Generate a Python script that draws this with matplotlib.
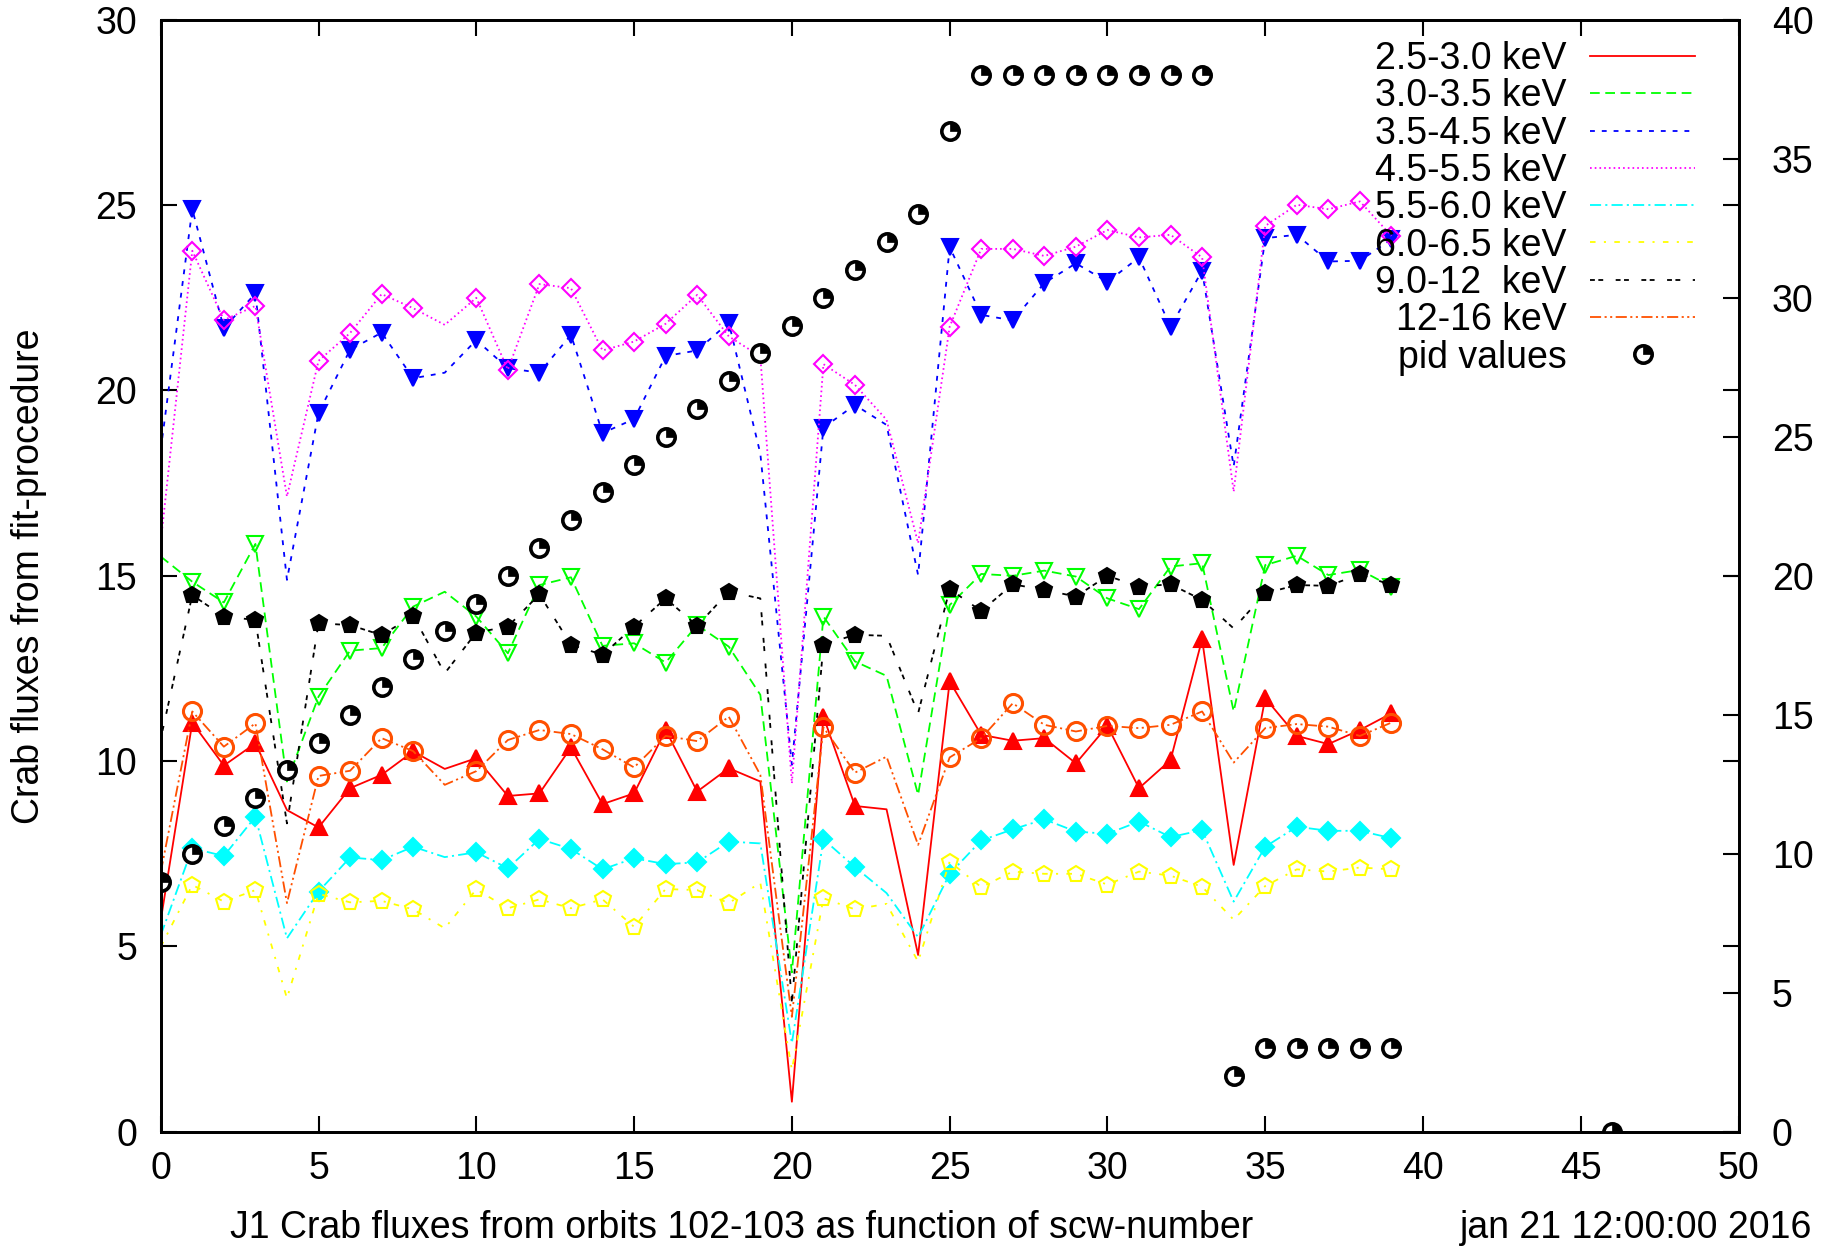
import matplotlib
matplotlib.use("Agg")
import matplotlib.pyplot as plt
from matplotlib.lines import Line2D
from matplotlib.path import Path

plt.rcParams['font.family'] = ['Liberation Sans', 'DejaVu Sans']
plt.rcParams['lines.scale_dashes'] = False

# scw number
scw = list(range(40))

flux_25_30 = [5.7, 11.04, 9.88, 10.48, 8.68, 8.21, 9.27, 9.63, 10.26, 9.79,
              10.08, 9.06, 9.13, 10.37, 8.84, 9.13, 10.84, 9.18, 9.81, 9.45,
              0.81, 11.2, 8.79, 8.7, 4.77, 12.15, 10.71, 10.55, 10.62, 9.94,
              10.95, 9.27, 10.03, 13.29, 7.2, 11.7, 10.68, 10.46, 10.84, 11.29]
flux_30_35 = [15.52, 14.84, 14.28, 15.86, 9.45, 11.74, 12.98, 13.05, 14.17, 14.57,
              13.9, 12.91, 14.75, 14.96, 13.11, 13.18, 12.66, 13.67, 13.09, 11.79,
              4.3, 13.9, 12.69, 12.3, 9.09, 14.21, 15.05, 15.0, 15.14, 14.98,
              14.39, 14.1, 15.25, 15.34, 11.34, 15.29, 15.54, 15.02, 15.16, 14.71]
flux_35_45 = [18.4, 24.89, 21.68, 22.62, 14.89, 19.39, 21.1, 21.56, 20.33, 20.48,
              21.36, 20.6, 20.48, 21.5, 18.85, 19.23, 20.93, 21.08, 21.83, 18.3,
              9.9, 19.0, 19.61, 19.07, 15.02, 23.87, 22.04, 21.89, 22.9, 23.43,
              22.93, 23.59, 21.72, 23.23, 17.95, 24.11, 24.2, 23.48, 23.5, 24.08]
flux_45_55 = [15.9, 23.77, 21.9, 22.28, 17.14, 20.8, 21.55, 22.6, 22.22, 21.77,
              22.5, 20.56, 22.87, 22.76, 21.08, 21.32, 21.8, 22.58, 21.46, 20.92,
              9.4, 20.71, 20.15, 19.21, 15.88, 21.72, 23.82, 23.82, 23.63, 23.88,
              24.33, 24.13, 24.2, 23.59, 17.27, 24.44, 25.01, 24.89, 25.1, 24.17]
flux_55_60 = [5.3, 7.65, 7.44, 8.5, 5.22, 6.48, 7.4, 7.33, 7.69, 7.41,
              7.54, 7.11, 7.9, 7.63, 7.08, 7.38, 7.22, 7.27, 7.83, 7.78,
              2.39, 7.89, 7.14, 6.44, 5.25, 6.96, 7.86, 8.16, 8.43, 8.1,
              8.04, 8.37, 7.95, 8.14, 6.21, 7.69, 8.23, 8.12, 8.12, 7.92]
flux_60_65 = [4.99, 6.66, 6.21, 6.52, 3.6, 6.42, 6.19, 6.23, 6.0, 5.49,
              6.54, 6.03, 6.27, 6.03, 6.27, 5.53, 6.55, 6.52, 6.17, 6.72,
              1.67, 6.3, 6.0, 6.15, 4.59, 7.29, 6.6, 7.02, 6.96, 6.96,
              6.67, 7.02, 6.91, 6.61, 5.72, 6.63, 7.08, 7.02, 7.13, 7.08]
flux_90_12 = [10.6, 14.48, 13.9, 13.81, 8.32, 13.72, 13.67, 13.4, 13.92, 12.37,
              13.47, 13.63, 14.5, 13.14, 12.87, 13.63, 14.39, 13.65, 14.57, 14.39,
              3.5, 13.14, 13.41, 13.38, 11.29, 14.64, 14.05, 14.77, 14.62, 14.44,
              15.0, 14.71, 14.77, 14.35, 13.58, 14.53, 14.75, 14.73, 15.04, 14.75]
flux_12_16 = [7.0, 11.34, 10.39, 11.02, 6.17, 9.6, 9.74, 10.62, 10.27, 9.36,
              9.73, 10.57, 10.84, 10.73, 10.32, 9.83, 10.68, 10.54, 11.2, 9.63,
              3.1, 10.91, 9.69, 10.12, 7.74, 10.1, 10.62, 11.56, 10.98, 10.8,
              10.95, 10.89, 10.98, 11.34, 9.96, 10.89, 11.0, 10.93, 10.68, 11.04]

# scws that have a point symbol drawn
marked = [1, 2, 3, 5, 6, 7, 8, 10, 11, 12, 13, 14, 15, 16, 17, 18, 21, 22,
          25, 26, 27, 28, 29, 30, 31, 32, 33, 35, 36, 37, 38, 39]

pid_x = list(range(40)) + [46]
pid_vals = [9, 10, 11, 12, 13, 14, 15, 16, 17, 18, 19, 20, 21, 22, 23, 24, 25,
            26, 27, 28, 29, 30, 31, 32, 33, 36, 38, 38, 38, 38, 38, 38, 38, 38,
            2, 3, 3, 3, 3, 3, 0]

labels = ['2.5-3.0 keV', '3.0-3.5 keV', '3.5-4.5 keV', '4.5-5.5 keV',
          '5.5-6.0 keV', '6.0-6.5 keV', '9.0-12  keV', '12-16 keV']

series = [flux_25_30, flux_30_35, flux_35_45, flux_45_55,
          flux_55_60, flux_60_65, flux_90_12, flux_12_16]
colors = ['#ff0000', '#00ff00', '#0000ff', '#ff00ff',
          '#00ffff', '#ffff00', '#000000', '#ff5000']
dashes = [(None, None), (7, 4), (3.5, 5), (1.2, 2.2),
          (8, 3, 1.5, 3), (4, 6, 1.5, 6), (3.5, 2.5, 3.5, 9),
          (8, 2.5, 1.5, 2.5, 1.5, 2.5)]
markers = ['^', 'v', 'v', 'D', 'D', 'p', 'p', 'o']
filled = [True, False, True, False, True, False, True, False]
msizes = [11, 11, 11, 8.7, 8.7, 12, 12, 13]
medges = [1.5, 1.5, 1.5, 1.5, 1.5, 1.5, 1.5, 2.2]

FS = 27

fig = plt.figure(figsize=(18.39, 12.47), dpi=100)
ax = fig.add_axes([0.0874, 0.0924, 0.858, 0.8917])
ax.set_xlim(0, 50)
ax.set_ylim(0, 30)

handles = []
for y, c, d, m, f, ms, mw in zip(series, colors, dashes, markers, filled, msizes, medges):
    style = dict(ls='-') if d[0] is None else dict(dashes=d)
    ax.plot(scw, y, color=c, lw=1.3, **style)
    ax.plot(scw, y, ls='none', marker=m, markevery=marked, ms=ms,
            mec=c, mfc=c if f else 'none', mew=mw)
    handles.append(Line2D([], [], color=c, lw=1.3, **style))

ax2 = ax.twinx()
ax2.set_ylim(0, 40)
quarter = Path.wedge(0, 90)
ax2.plot(pid_x, pid_vals, ls='none', marker='o', ms=12.5, mfc='white',
         mec='black', mew=2.6)
ax2.plot(pid_x, pid_vals, ls='none', marker=quarter, ms=12.5, mfc='black',
         mec='black', mew=0.5)
pid_h = (Line2D([], [], ls='none', marker='o', ms=12.5, mfc='white', mec='black', mew=2.6),
         Line2D([], [], ls='none', marker=quarter, ms=12.5, mfc='black', mec='black', mew=0.5))

ax.set_xticks(range(0, 51, 5))
ax.set_yticks(range(0, 31, 5))
ax2.set_yticks(range(0, 41, 5))
ax.tick_params(axis='x', direction='in', top=True, length=11.5, width=1.5,
               labelsize=FS, pad=14)
ax.tick_params(axis='y', direction='in', right=True, labelright=False,
               length=11.5, width=1.5, labelsize=FS, pad=17)
ax2.tick_params(axis='y', direction='in', length=11.5, width=1.5,
                labelsize=FS, pad=24)
for a in (ax, ax2):
    for s in a.spines.values():
        s.set_linewidth(2)

leg = ax2.legend(handles + [pid_h], labels + ['pid values'],
                 loc='upper right', bbox_to_anchor=(1695 / 1839, 1 - 41 / 1247),
                 bbox_transform=fig.transFigure, frameon=False, markerfirst=False,
                 borderpad=0, borderaxespad=0, handlelength=2.8,
                 handletextpad=0.63, labelspacing=0.035, fontsize=FS)

fig.text(29 / 1839, 1 - 576 / 1247, 'Crab fluxes from fit-procedure',
         rotation=90, ha='center', va='center', fontsize=FS)
fig.text(742 / 1839, 1 - 1228 / 1247,
         'J1 Crab fluxes from orbits 102-103 as function of scw-number',
         ha='center', va='center', fontsize=FS)
fig.text(1812 / 1839, 1 - 1228 / 1247, 'jan 21 12:00:00 2016',
         ha='right', va='center', fontsize=FS)

fig.savefig('out.png', dpi=100)
